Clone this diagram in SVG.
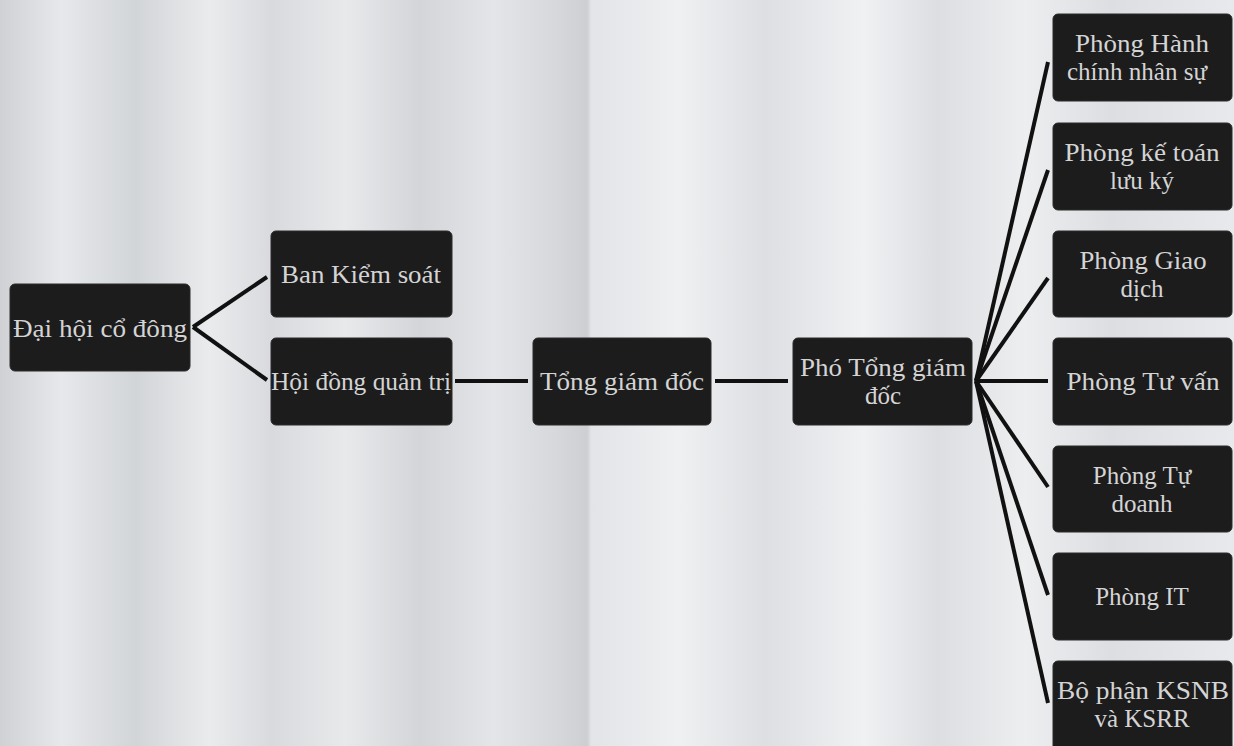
<svg xmlns="http://www.w3.org/2000/svg" width="1234" height="746" viewBox="0 0 1234 746">
<defs>
<linearGradient id="bg" x1="0" y1="0" x2="1234" y2="0" gradientUnits="userSpaceOnUse">
<stop offset="0" stop-color="#cfd1d4"/>
<stop offset="0.05" stop-color="#e6e8eb"/>
<stop offset="0.11" stop-color="#d2d5d8"/>
<stop offset="0.17" stop-color="#eaebed"/>
<stop offset="0.22" stop-color="#d8dadd"/>
<stop offset="0.28" stop-color="#e8e9eb"/>
<stop offset="0.34" stop-color="#d3d5d8"/>
<stop offset="0.40" stop-color="#e4e5e8"/>
<stop offset="0.45" stop-color="#d6d8db"/>
<stop offset="0.476" stop-color="#cdcfd2"/>
<stop offset="0.479" stop-color="#e2e4e7"/>
<stop offset="0.55" stop-color="#eef0f2"/>
<stop offset="0.62" stop-color="#dddfe2"/>
<stop offset="0.70" stop-color="#f0f1f3"/>
<stop offset="0.76" stop-color="#dcdee1"/>
<stop offset="0.83" stop-color="#edeef0"/>
<stop offset="0.90" stop-color="#dcdee1"/>
<stop offset="1" stop-color="#e8e9ec"/>
</linearGradient>
</defs>
<style>
.box{fill:#1c1c1d;stroke:#2a2a2a;stroke-width:1}
.t{font-family:"Liberation Serif","DejaVu Serif",serif;font-size:25px;fill:#d4d4d4;text-anchor:middle}
.c{stroke:#111;stroke-width:4;fill:none;stroke-linecap:butt}
</style>
<rect x="0" y="0" width="1234" height="746" fill="url(#bg)"/>
<g id="connectors">
<line class="c" x1="193" y1="327" x2="267" y2="277"/>
<line class="c" x1="193" y1="327" x2="267" y2="380"/>
<line class="c" x1="455" y1="381" x2="528" y2="381"/>
<line class="c" x1="715" y1="381" x2="788" y2="381"/>
<line class="c" x1="976" y1="381" x2="1048" y2="62"/>
<line class="c" x1="976" y1="381" x2="1048" y2="170"/>
<line class="c" x1="976" y1="381" x2="1048" y2="278"/>
<line class="c" x1="976" y1="381" x2="1048" y2="381"/>
<line class="c" x1="976" y1="381" x2="1048" y2="487"/>
<line class="c" x1="976" y1="381" x2="1048" y2="595"/>
<line class="c" x1="976" y1="381" x2="1048" y2="703"/>
</g>
<g id="n-daihoi"><rect class="box" x="10" y="284" width="180" height="87" rx="5"/><text class="t" x="100" y="337" textLength="174" lengthAdjust="spacingAndGlyphs">Đại hội cổ đông</text></g>
<g id="n-bks"><rect class="box" x="271" y="231" width="181" height="86" rx="5"/><text class="t" x="361" y="283" textLength="160" lengthAdjust="spacingAndGlyphs">Ban Kiểm soát</text></g>
<g id="n-hdqt"><rect class="box" x="271" y="338" width="181" height="87" rx="5"/><text class="t" x="361" y="390" textLength="180" lengthAdjust="spacingAndGlyphs">Hội đồng quản trị</text></g>
<g id="n-tgd"><rect class="box" x="533" y="338" width="178" height="87" rx="5"/><text class="t" x="622" y="390" textLength="164" lengthAdjust="spacingAndGlyphs">Tổng giám đốc</text></g>
<g id="n-ptgd"><rect class="box" x="793" y="338" width="179" height="87" rx="5"/><text class="t" x="883" y="376" textLength="166" lengthAdjust="spacingAndGlyphs">Phó Tổng giám</text><text class="t" x="883" y="404">đốc</text></g>
<g id="n-hcns"><rect class="box" x="1053" y="14" width="179" height="87" rx="5"/><text class="t" x="1142" y="52" textLength="134" lengthAdjust="spacingAndGlyphs">Phòng Hành</text><text class="t" x="1137" y="80" textLength="140" lengthAdjust="spacingAndGlyphs">chính nhân sự</text></g>
<g id="n-ktlk"><rect class="box" x="1053" y="123" width="179" height="87" rx="5"/><text class="t" x="1142" y="161" textLength="155" lengthAdjust="spacingAndGlyphs">Phòng kế toán</text><text class="t" x="1142" y="189">lưu ký</text></g>
<g id="n-gd"><rect class="box" x="1053" y="231" width="179" height="86" rx="5"/><text class="t" x="1143" y="269" textLength="127" lengthAdjust="spacingAndGlyphs">Phòng Giao</text><text class="t" x="1142" y="297">dịch</text></g>
<g id="n-tv"><rect class="box" x="1053" y="338" width="179" height="87" rx="5"/><text class="t" x="1143" y="390" textLength="153" lengthAdjust="spacingAndGlyphs">Phòng Tư vấn</text></g>
<g id="n-td"><rect class="box" x="1053" y="446" width="179" height="86" rx="5"/><text class="t" x="1142" y="484">Phòng Tự</text><text class="t" x="1142" y="512">doanh</text></g>
<g id="n-it"><rect class="box" x="1053" y="553" width="179" height="87" rx="5"/><text class="t" x="1142" y="605">Phòng IT</text></g>
<g id="n-ksnb"><rect class="box" x="1053" y="661" width="179" height="90" rx="5"/><text class="t" x="1143" y="699" textLength="172" lengthAdjust="spacingAndGlyphs">Bộ phận KSNB</text><text class="t" x="1142" y="727">và KSRR</text></g>
</svg>
